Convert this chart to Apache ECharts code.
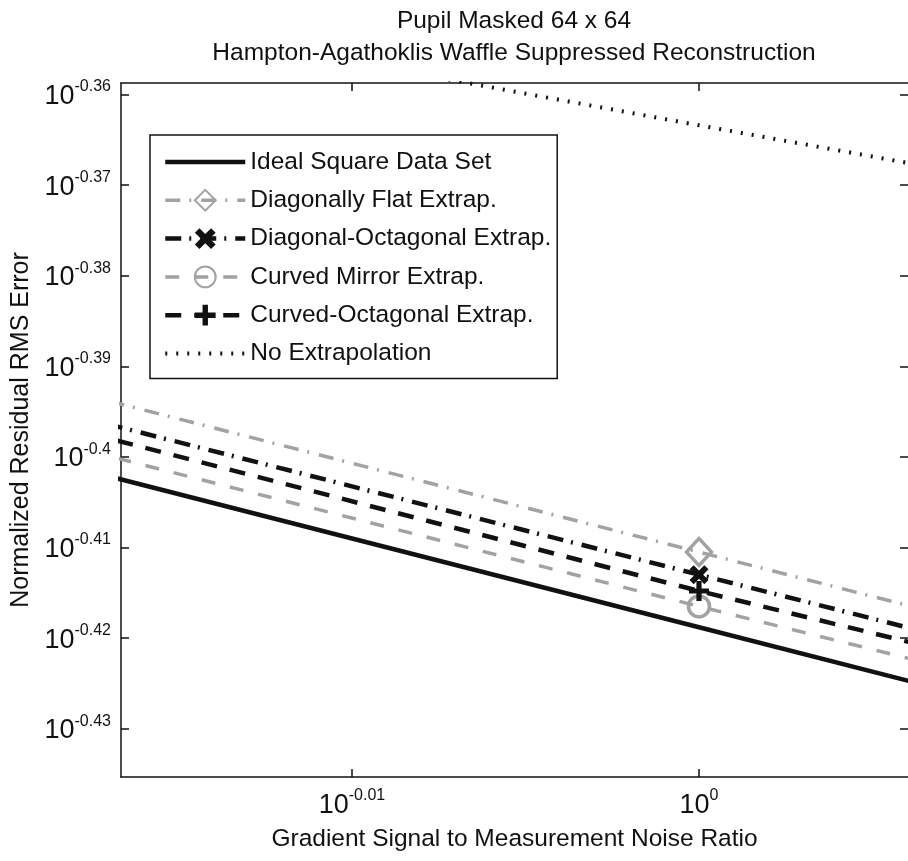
<!DOCTYPE html>
<html>
<head>
<meta charset="utf-8">
<script src="https://cdn.jsdelivr.net/npm/echarts@6/dist/echarts.min.js"></script>
<style>
  html, body { margin: 0; padding: 0; background: #fff; }
  #chart { width: 908px; height: 861px; }
</style>
</head>
<body>
<div id="chart"></div>
<script>
// Both axes are logarithmic; every value below is a base-10 exponent.
const snrLog10 = [-0.02, 0, 0.01];            // gradient signal to measurement noise ratio
const idealSquare      = [-0.3992, -0.4188, -0.4286];
const diagonallyFlat   = [-0.3909, -0.4105, -0.4203];
const diagonalOctagon  = [-0.3935, -0.4130, -0.4227];
const curvedMirror     = [-0.3970, -0.4165, -0.4260];
const curvedOctagon    = [-0.3950, -0.4148, -0.4241];
const noExtrapolation  = [-0.3494, -0.3634, -0.3703];

const xTicks = [-0.01, 0];
const yTicks = [-0.43, -0.42, -0.41, -0.40, -0.39, -0.38, -0.37, -0.36];

const xRange = [-0.016657, 0.006023];
const yRange = [-0.43533, -0.358731];

const FONT = "'Liberation Sans', Arial, Helvetica, sans-serif";
const INK = '#111111';
const GREY = '#a2a2a2';

// marker drawn only at SNR = 10^0
const markerIndex = 1;

function pairs(ys, withMarker) {
  return snrLog10.map((x, i) => {
    const item = { value: [x, ys[i]] };
    if (!withMarker || i !== markerIndex) item.symbol = 'none';
    return item;
  });
}

function powerLabel(v) {
  const e = String(parseFloat(Number(v).toFixed(2)));
  return '{b|10}{s|' + e + '}';
}
const powerRich = {
  b: { fontFamily: FONT, fontSize: 27, color: INK, lineHeight: 31, verticalAlign: 'bottom' },
  s: { fontFamily: FONT, fontSize: 16, color: INK, lineHeight: 16, verticalAlign: 'top' }
};

const X_MARK = 'path://M0,2.2 L2.2,0 L5,2.8 L7.8,0 L10,2.2 L7.2,5 L10,7.8 L7.8,10 L5,7.2 L2.2,10 L0,7.8 L2.8,5 Z';
const PLUS_MARK = 'path://M3.7,0 H6.3 V3.7 H10 V6.3 H6.3 V10 H3.7 V6.3 H0 V3.7 H3.7 Z';

const axisLine = { show: true, onZero: false, lineStyle: { color: INK, width: 1.5 } };
const tickStyle = { color: INK, width: 1.5 };
const noSymbolInLegend = { color: 'rgba(0,0,0,0)', borderWidth: 0, opacity: 0 };

const chart = echarts.init(document.getElementById('chart'), null, { renderer: 'canvas' });

chart.setOption({
  animation: false,
  backgroundColor: '#ffffff',
  title: {
    text: 'Pupil Masked 64 x 64\nHampton-Agathoklis Waffle Suppressed Reconstruction',
    left: 514,
    top: 5,
    padding: 0,
    textAlign: 'center',
    textStyle: { fontFamily: FONT, fontSize: 24.5, fontWeight: 'normal', color: INK, lineHeight: 32 }
  },
  grid: { left: 121, right: 0, top: 83, bottom: 84, containLabel: false, outerBoundsMode: 'none' },
  legend: {
    orient: 'vertical',
    left: 150,
    top: 135,
    padding: [14, 6, 12, 13],
    itemWidth: 80,
    itemHeight: 26,
    itemGap: 12.3,
    borderColor: INK,
    borderWidth: 1.5,
    borderRadius: 0,
    backgroundColor: '#ffffff',
    selectedMode: false,
    textStyle: { fontFamily: FONT, fontSize: 24.5, color: INK, lineHeight: 26 },
    lineStyle: { width: 'inherit' },
    data: [
      { name: 'Ideal Square Data Set', itemStyle: noSymbolInLegend },
      'Diagonally Flat Extrap.',
      'Diagonal-Octagonal Extrap.',
      'Curved Mirror Extrap.',
      'Curved-Octagonal Extrap.',
      { name: 'No Extrapolation', itemStyle: noSymbolInLegend }
    ]
  },
  xAxis: [{
    type: 'value',
    position: 'bottom',
    min: xRange[0], max: xRange[1],
    axisLine: axisLine,
    axisTick: { inside: true, length: 8, customValues: xTicks, lineStyle: tickStyle },
    axisLabel: { customValues: xTicks, formatter: powerLabel, rich: powerRich, margin: 11 },
    splitLine: { show: false },
    name: 'Gradient Signal to Measurement Noise Ratio',
    nameLocation: 'middle',
    nameGap: 50,
    nameTextStyle: { fontFamily: FONT, fontSize: 24.5, color: INK }
  }, {
    type: 'value',
    position: 'top',
    min: xRange[0], max: xRange[1],
    axisLine: axisLine,
    axisTick: { inside: true, length: 8, customValues: xTicks, lineStyle: tickStyle },
    axisLabel: { show: false },
    splitLine: { show: false }
  }],
  yAxis: [{
    type: 'value',
    position: 'left',
    min: yRange[0], max: yRange[1],
    axisLine: axisLine,
    axisTick: { inside: true, length: 8, customValues: yTicks, lineStyle: tickStyle },
    axisLabel: { customValues: yTicks, formatter: powerLabel, rich: powerRich, margin: 10 },
    splitLine: { show: false },
    name: 'Normalized Residual RMS Error',
    nameLocation: 'middle',
    nameGap: 86,
    nameTextStyle: { fontFamily: FONT, fontSize: 25, color: INK }
  }, {
    type: 'value',
    position: 'right',
    min: yRange[0], max: yRange[1],
    axisLine: { show: false, onZero: false },
    axisTick: { inside: true, length: 8, customValues: yTicks, lineStyle: tickStyle },
    axisLabel: { show: false },
    splitLine: { show: false }
  }],
  series: [{
    name: 'Ideal Square Data Set',
    type: 'line',
    symbol: 'none',
    data: pairs(idealSquare, false),
    lineStyle: { color: INK, width: 4.5, type: 'solid' },
    itemStyle: { color: INK }
  }, {
    name: 'Diagonally Flat Extrap.',
    type: 'line',
    symbol: 'diamond',
    symbolSize: [25, 27],
    data: pairs(diagonallyFlat, true),
    lineStyle: { color: GREY, width: 3.5, type: [15, 9, 2, 10] },
    itemStyle: { color: 'rgba(255,255,255,0)', borderColor: GREY, borderWidth: 3.5 }
  }, {
    name: 'Diagonal-Octagonal Extrap.',
    type: 'line',
    symbol: X_MARK,
    symbolSize: 19,
    data: pairs(diagonalOctagon, true),
    lineStyle: { color: INK, width: 4.5, type: [16, 8, 2, 9] },
    itemStyle: { color: INK }
  }, {
    name: 'Curved Mirror Extrap.',
    type: 'line',
    symbol: 'circle',
    symbolSize: 21,
    data: pairs(curvedMirror, true),
    lineStyle: { color: GREY, width: 3.5, type: [14, 15] },
    itemStyle: { color: 'rgba(255,255,255,0)', borderColor: GREY, borderWidth: 3.5 }
  }, {
    name: 'Curved-Octagonal Extrap.',
    type: 'line',
    symbol: PLUS_MARK,
    symbolSize: 20,
    data: pairs(curvedOctagon, true),
    lineStyle: { color: INK, width: 4.5, type: [16, 13] },
    itemStyle: { color: INK }
  }, {
    name: 'No Extrapolation',
    type: 'line',
    symbol: 'none',
    data: pairs(noExtrapolation, false),
    lineStyle: { color: INK, width: 4, type: [2, 9] },
    itemStyle: { color: INK }
  }]
});
</script>
</body>
</html>
